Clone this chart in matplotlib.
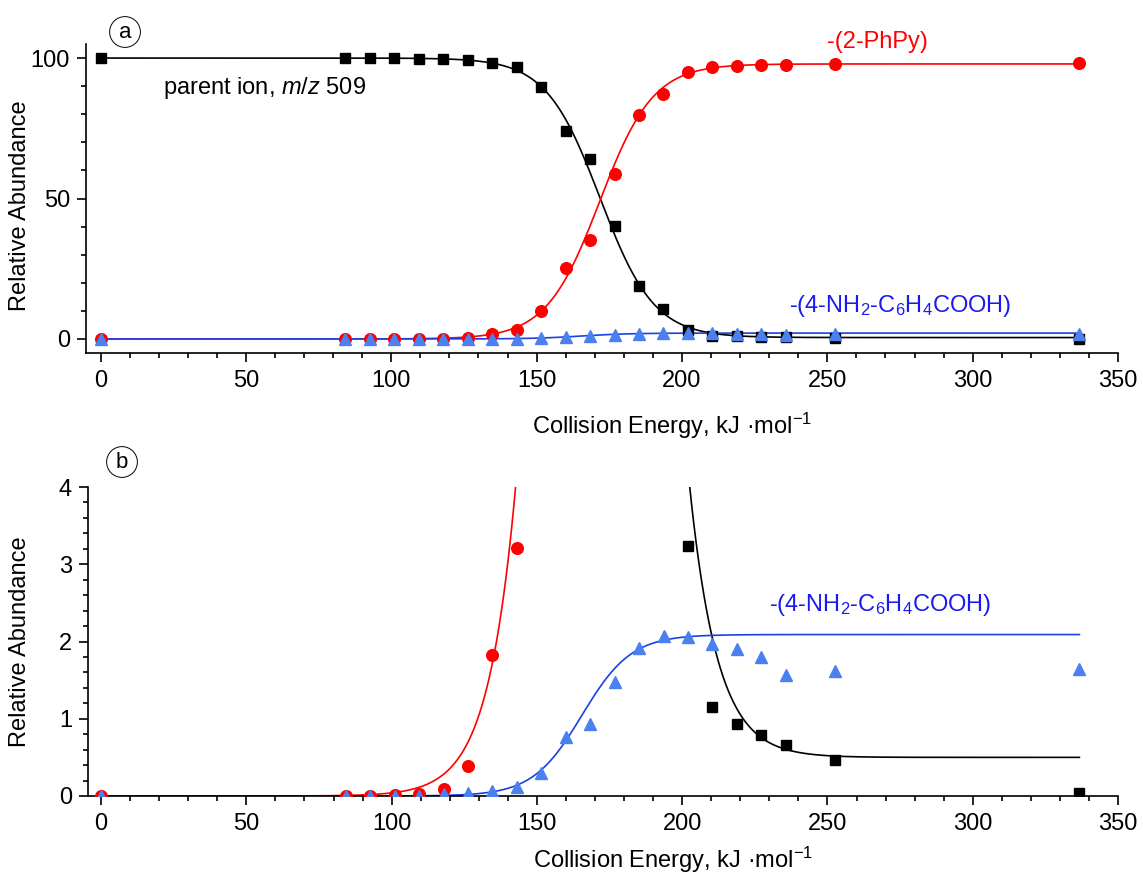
import numpy as np
import matplotlib
matplotlib.use("Agg")
import matplotlib.pyplot as plt
from matplotlib.ticker import MultipleLocator

plt.rcParams["font.family"] = ["Liberation Sans", "DejaVu Sans"]
plt.rcParams["mathtext.fontset"] = "custom"
plt.rcParams["mathtext.rm"] = "Liberation Sans"
plt.rcParams["mathtext.it"] = "Liberation Sans:italic"

# Collision energies (kJ/mol)
energy = [0, 84.2, 92.6, 101.0, 109.4, 117.9, 126.3, 134.7, 143.1, 151.5, 160.0,
          168.4, 176.8, 185.2, 193.6, 202.0, 210.4, 218.9, 227.3, 235.7, 252.5, 336.7]

# Relative abundances (%)
parent_ion = [100, 100, 100, 99.9, 99.8, 99.7, 99.4, 98.2, 96.7, 89.7, 74.2,
              64.1, 40.1, 18.8, 10.8, 3.24, 1.15, 0.93, 0.79, 0.66, 0.47, 0.04]
loss_phpy = [0, 0.0, 0.0, 0.01, 0.03, 0.09, 0.39, 1.82, 3.21, 9.9, 25.2,
             35.3, 58.6, 79.6, 87.1, 94.9, 96.8, 97.1, 97.4, 97.7, 98.0, 98.2]
loss_acid = [0, 0.0, 0.0, 0.0, 0.0, 0.02, 0.04, 0.07, 0.12, 0.30, 0.77,
             0.93, 1.47, 1.92, 2.07, 2.06, 1.97, 1.90, 1.80, 1.56, 1.62, 1.64]

# Boltzmann fit parameters: (A1, A2, x0, dx)
fit_parent = (100.0, 0.5, 171.8, 9.3)
fit_phpy = (0.0, 97.9, 171.7, 9.2)
fit_acid = (0.0, 2.09, 165.5, 8.5)

label_parent = "parent ion, $\\mathit{m/z}$ 509"
label_phpy = "-(2-PhPy)"
label_acid = "-(4-NH$_2$-C$_6$H$_4$COOH)"
xlabel = "Collision Energy, kJ \u00b7mol$^{-1}$"
ylabel = "Relative Abundance"

BLACK = "#000000"
RED = "#ff0000"
TRI = "#4a80f0"
BLUE_LINE = "#1a40e6"
BLUE_TEXT = "#1a1aee"


def boltzmann(x, a1, a2, x0, dx):
    return a2 + (a1 - a2) / (1.0 + np.exp((x - x0) / dx))


xf = np.linspace(0, energy[-1], 800)

fig = plt.figure(figsize=(11.43, 8.77), dpi=100)
ax1 = fig.add_axes([86 / 1143, 1 - 353 / 877, (1118 - 86) / 1143, (353 - 44) / 877])
ax2 = fig.add_axes([88 / 1143, 1 - 796 / 877, (1118 - 88) / 1143, (796 - 487) / 877])


def draw(ax, xpad):
    ax.plot(xf, boltzmann(xf, *fit_parent), color=BLACK, lw=1.2, zorder=2)
    ax.plot(xf, boltzmann(xf, *fit_phpy), color=RED, lw=1.2, zorder=2)
    ax.plot(xf, boltzmann(xf, *fit_acid), color=BLUE_LINE, lw=1.2, zorder=2)
    ax.plot(energy, parent_ion, ls="none", marker="s", ms=7.2, color=BLACK, zorder=3)
    ax.plot(energy, loss_phpy, ls="none", marker="o", ms=8.4, color=RED, zorder=4)
    ax.plot(energy, loss_acid, ls="none", marker="^", ms=9, color=TRI, zorder=5)
    for s in ("top", "right"):
        ax.spines[s].set_visible(False)
    for s in ("left", "bottom"):
        ax.spines[s].set_linewidth(1.2)
    ax.xaxis.set_major_locator(MultipleLocator(50))
    ax.xaxis.set_minor_locator(MultipleLocator(10))
    ax.tick_params(which="major", direction="out", length=6.5, width=1.2, labelsize=17)
    ax.tick_params(which="minor", direction="out", length=3.8, width=1.2)
    ax.tick_params(axis="x", which="major", pad=5.5)
    ax.tick_params(axis="y", which="major", pad=5)
    ax.set_xlabel(xlabel, fontsize=17, labelpad=xpad)
    ax.set_ylabel(ylabel, fontsize=17)
    ax.xaxis.label.set_x(0.568)


draw(ax1, 14)
ax1.set_xlim(-5, 350)
ax1.set_ylim(-5, 105)
ax1.yaxis.set_major_locator(MultipleLocator(50))
ax1.yaxis.set_minor_locator(MultipleLocator(10))
ax1.yaxis.set_label_coords(-0.0533, 0.476)
ax1.text(21.6, 89.5, label_parent, fontsize=17, color=BLACK, va="center", ha="left")
ax1.text(249.8, 105.8, label_phpy, fontsize=17, color=RED, va="center", ha="left",
         clip_on=False)
ax1.text(236.8, 11.6, label_acid, fontsize=17, color=BLUE_TEXT, va="center", ha="left")
ax1.text(125 / 1143, 1 - 32 / 877, "a", transform=fig.transFigure, fontsize=16,
         ha="center", va="center",
         bbox=dict(boxstyle="circle,pad=0.22", fc="white", ec="black", lw=0.7))

draw(ax2, 7)
ax2.set_xlim(-4.5, 350)
ax2.set_ylim(0, 4)
ax2.yaxis.set_major_locator(MultipleLocator(1))
ax2.yaxis.set_minor_locator(MultipleLocator(0.2))
ax2.yaxis.set_label_coords(-0.0553, 0.5)
ax2.text(230, 2.47, label_acid, fontsize=17, color=BLUE_TEXT, va="center", ha="left")
ax2.text(122 / 1143, 1 - 462 / 877, "b", transform=fig.transFigure, fontsize=16,
         ha="center", va="center",
         bbox=dict(boxstyle="circle,pad=0.22", fc="white", ec="black", lw=0.7))

fig.savefig("out.png", dpi=100)
